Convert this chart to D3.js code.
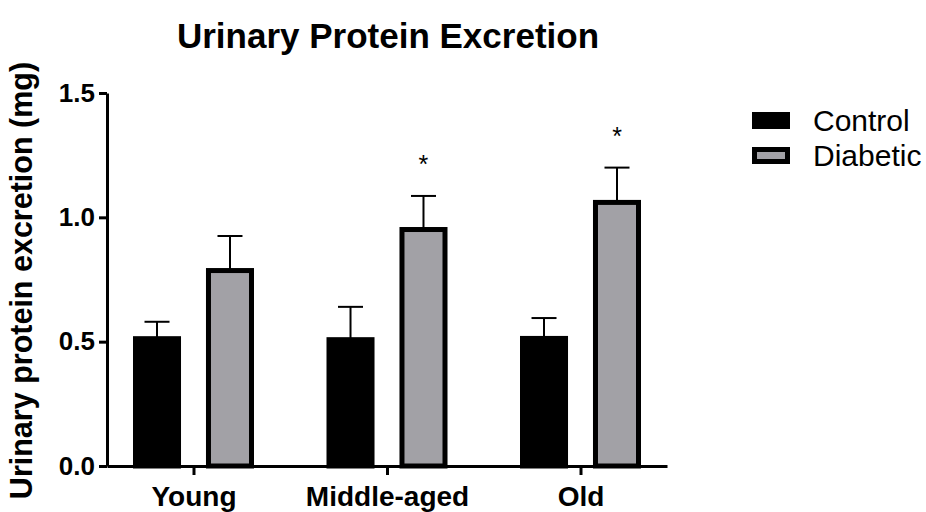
<!DOCTYPE html>
<html>
<head>
<meta charset="utf-8">
<script src="https://cdn.jsdelivr.net/npm/d3@7"></script>
<style>
  body { margin: 0; background: #fff; }
  svg { font-family: "Liberation Sans", Arial, sans-serif; }
</style>
</head>
<body>
<svg id="chart" width="926" height="512"></svg>
<script>
// data
const groups      = ["Young", "Middle-aged", "Old"];
const seriesNames = ["Control", "Diabetic"];
const controlMean = [0.512, 0.508, 0.513];
const controlSem  = [0.068, 0.132, 0.082];
const diabMean    = [0.786, 0.951, 1.06];
const diabSem     = [0.139, 0.135, 0.14];
const diabSig     = ["", "*", "*"];
const yTicks      = [0, 0.5, 1.0, 1.5];

const seriesColor = { Control: "#000000", Diabetic: "#a2a1a6" };

const svg = d3.select("#chart");

// plot frame
const plotL = 107, plotR = 667, plotT = 93, plotB = 466;

const x = d3.scalePoint().domain(groups).range([plotL, plotR]).padding(0.447);
const xs = d3.scaleBand().domain(seriesNames).range([-60.5, 60.5]).paddingInner(0.342);
const y = d3.scaleLinear().domain([0, 1.5]).range([plotB, plotT]);

// flatten into bar records
const bars = [];
groups.forEach((g, i) => {
  bars.push({ group: g, series: "Control", mean: controlMean[i], sem: controlSem[i], sig: "" });
  bars.push({ group: g, series: "Diabetic", mean: diabMean[i], sem: diabSem[i], sig: diabSig[i] });
});

const cx = d => x(d.group) + xs(d.series) + xs.bandwidth() / 2;

// error bars (drawn first so bar covers the base)
const err = svg.append("g");
err.selectAll("line.stem")
  .data(bars)
  .join("line")
    .attr("class", "stem")
    .attr("x1", cx).attr("x2", cx)
    .attr("y1", d => y(d.mean))
    .attr("y2", d => y(d.mean + d.sem))
    .attr("stroke", "#000").attr("stroke-width", 2);
err.selectAll("line.cap")
  .data(bars)
  .join("line")
    .attr("class", "cap")
    .attr("x1", d => cx(d) - 12.5)
    .attr("x2", d => cx(d) + 12.5)
    .attr("y1", d => y(d.mean + d.sem))
    .attr("y2", d => y(d.mean + d.sem))
    .attr("stroke", "#000").attr("stroke-width", 2);

// bars
const sw = 5;
svg.append("g").selectAll("rect")
  .data(bars)
  .join("rect")
    .attr("x", d => x(d.group) + xs(d.series) + sw / 2)
    .attr("y", d => y(d.mean))
    .attr("width", xs.bandwidth() - sw)
    .attr("height", d => y(0) - y(d.mean))
    .attr("fill", d => seriesColor[d.series])
    .attr("stroke", "#000")
    .attr("stroke-width", sw);

// significance stars
svg.append("g").selectAll("text")
  .data(bars.filter(d => d.sig))
  .join("text")
    .attr("x", cx)
    .attr("y", d => y(d.mean + d.sem) - 23)
    .attr("text-anchor", "middle")
    .style("font-size", "25px")
    .text(d => d.sig);

// y axis
const yAxis = svg.append("g")
  .attr("transform", `translate(${plotL},0)`)
  .call(d3.axisLeft(y).tickValues(yTicks).tickFormat(d3.format(".1f")).tickSize(8).tickSizeOuter(0).tickPadding(4));
yAxis.select(".domain").attr("stroke-width", 3);
yAxis.selectAll(".tick line").attr("stroke-width", 3);
yAxis.selectAll(".tick text")
  .style("font-size", "26px").style("font-weight", "bold")
  .style("font-family", "'Liberation Sans', Arial, sans-serif").attr("fill", "#000");

// x axis
const xAxis = svg.append("g")
  .attr("transform", `translate(0,${plotB})`)
  .call(d3.axisBottom(x).tickSize(9).tickSizeOuter(0).tickPadding(11));
xAxis.select(".domain").attr("stroke-width", 3);
xAxis.selectAll(".tick line").attr("stroke-width", 3);
xAxis.selectAll(".tick text")
  .style("font-size", "28px").style("font-weight", "bold")
  .style("font-family", "'Liberation Sans', Arial, sans-serif").attr("fill", "#000");

// title
svg.append("text")
  .attr("x", (plotL + plotR) / 2 + 1).attr("y", 48)
  .attr("text-anchor", "middle")
  .style("font-size", "35px").style("font-weight", "bold")
  .text("Urinary Protein Excretion");

// y axis title
svg.append("text")
  .attr("transform", `translate(32,${(plotT + plotB) / 2 + 1}) rotate(-90)`)
  .attr("text-anchor", "middle")
  .style("font-size", "30.5px").style("font-weight", "bold")
  .text("Urinary protein excretion (mg)");

// legend
const legend = svg.append("g").attr("transform", "translate(752,112)");
const lg = legend.selectAll("g")
  .data(seriesNames)
  .join("g")
    .attr("transform", (d, i) => `translate(0,${i * 35})`);
lg.append("rect")
  .attr("x", 2.5).attr("y", 2.5)
  .attr("width", 33).attr("height", 12)
  .attr("fill", d => seriesColor[d])
  .attr("stroke", "#000").attr("stroke-width", 5);
lg.append("text")
  .attr("x", 61).attr("y", 19)
  .style("font-size", "30px")
  .text(d => d);
</script>
</body>
</html>
